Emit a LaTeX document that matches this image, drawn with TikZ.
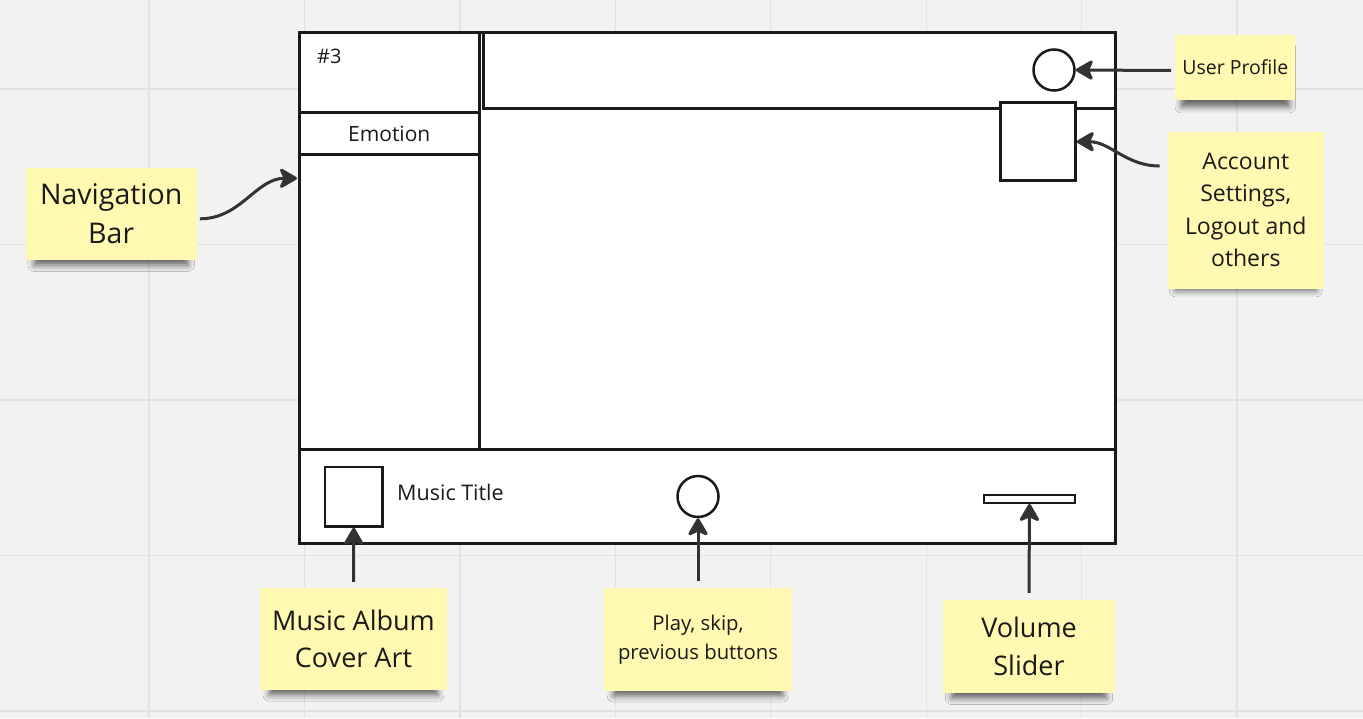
\documentclass[tikz,border=0pt]{standalone}
\usepackage{fontspec}
\setmainfont{Open Sans}
\usepackage{xcolor}
\usetikzlibrary{arrows.meta,positioning,shadows.blur}

\definecolor{boardbg}{HTML}{F2F2F2}
\definecolor{gridc}{HTML}{E2E2E2}
\definecolor{notey}{HTML}{FFF9B1}
\definecolor{inkc}{HTML}{1A1A1A}
\definecolor{arrowc}{HTML}{333333}

\tikzset{
  pane/.style={draw=inkc, line width=3pt, fill=white, inner sep=0pt},
  widget/.style={draw=inkc, line width=2.5pt, fill=white, inner sep=0pt},
  note/.style={fill=notey, text=inkc, align=center, inner sep=0pt,
    blur shadow={shadow xshift=0pt, shadow yshift=-11pt, shadow opacity=60,
      shadow blur radius=7pt, shadow scale=0.9}},
  callout/.style={draw=arrowc, line width=3pt,
    -{Stealth[length=20pt,width=23pt,inset=5pt,round]}},
}

\begin{document}
\begin{tikzpicture}[x=1pt, y=-1pt]
    % board and grid
    \fill[boardbg] (0,0) rectangle (1363,718);
    \useasboundingbox (0,0) rectangle (1363,718);
    \foreach \gx in {0,...,7}
        \draw[gridc, line width=1.3pt] ({149+155.43*\gx},0) -- ({149+155.43*\gx},718);
    \foreach \gy in {0,...,4}
        \draw[gridc, line width=1.3pt] (0,{89+155.5*\gy}) -- (1363,{89+155.5*\gy});

    % app window
    \node[pane, minimum width=816.5, minimum height=511] (win) at (707.25,288) {};
    \node[pane, minimum width=632, minimum height=75.5] (topbar) at (799.5,70.25) {};
    \node[pane, minimum width=180.5, minimum height=79.8] (header) at (389.25,72.4) {};
    \node[pane, minimum width=180.5, minimum height=41.7, font=\fontsize{21}{25}\selectfont, text=inkc] (emotion) at (389.25,133.6) {Emotion};
    \node[pane, minimum width=180.5, minimum height=295.5] (navpane) at (389.25,301.75) {};
    \node[pane, minimum width=816.5, minimum height=94] (player) at (707.25,496.5) {};
    \node[anchor=base west, inner sep=0pt, text=inkc, font=\fontsize{20}{24}\selectfont] (tag) at (317,63.3) {\#3};
    \coordinate (navedge) at (297,178.3);

    % widgets
    \node[widget, circle, minimum size=41] (profile) at (1054,70) {};
    \node[widget, minimum width=75, minimum height=78] (account) at (1038,141.7) {};
    \node[widget, minimum width=57.5, minimum height=59.5] (cover) at (353.75,496.75) {};
    \node[anchor=base west, inner sep=0pt, text=inkc, font=\fontsize{21.5}{25}\selectfont] (title) at (397,500.7) {Music Title};
    \node[widget, circle, minimum size=41] (playbtn) at (698,496.5) {};
    \node[widget, line width=2.3pt, minimum width=91, minimum height=8] (slider) at (1029.5,498.8) {};

    % sticky notes
    \node[note, minimum width=171, minimum height=92, font=\fontsize{28.5}{39}\selectfont] (navnote) at (111.2,213.8) {Navigation\\Bar};
    \node[note, minimum width=120, minimum height=65, font=\fontsize{19.5}{24}\selectfont] (profnote) at (1235.3,67.5) {User Profile};
    \node[note, minimum width=156, minimum height=157, font=\fontsize{23}{32.5}\selectfont] (accnote) at (1245.8,210) {Account\\Settings,\\Logout and\\others};
    \node[note, minimum width=187, minimum height=102, font=\fontsize{27}{37}\selectfont] (covernote) at (353.5,639) {Music Album\\Cover Art};
    \node[note, minimum width=188, minimum height=103, font=\fontsize{20.3}{28.5}\selectfont] (playnote) at (698,639.5) {Play, skip,\\previous buttons};
    \node[note, minimum width=172, minimum height=93, font=\fontsize{27}{38}\selectfont] (volnote) at (1029,646.5) {Volume\\Slider};

    % callouts
    \draw[callout] ([xshift=3pt,yshift=-5pt]navnote.east) to[out=0,in=180] (navedge);
    \draw[callout] ([xshift=-4pt,yshift=-3pt]profnote.west) -- (profile.east);
    \draw[callout] ([xshift=-8pt,yshift=44pt]accnote.west) to[out=180,in=0] (account.east);
    \draw[callout] ([yshift=6pt]covernote.north) -- (cover.south);
    \draw[callout] ([yshift=7pt]playnote.north) -- (playbtn.south);
    \draw[callout] ([yshift=7pt]volnote.north) -- (slider.south);
\end{tikzpicture}
\end{document}
